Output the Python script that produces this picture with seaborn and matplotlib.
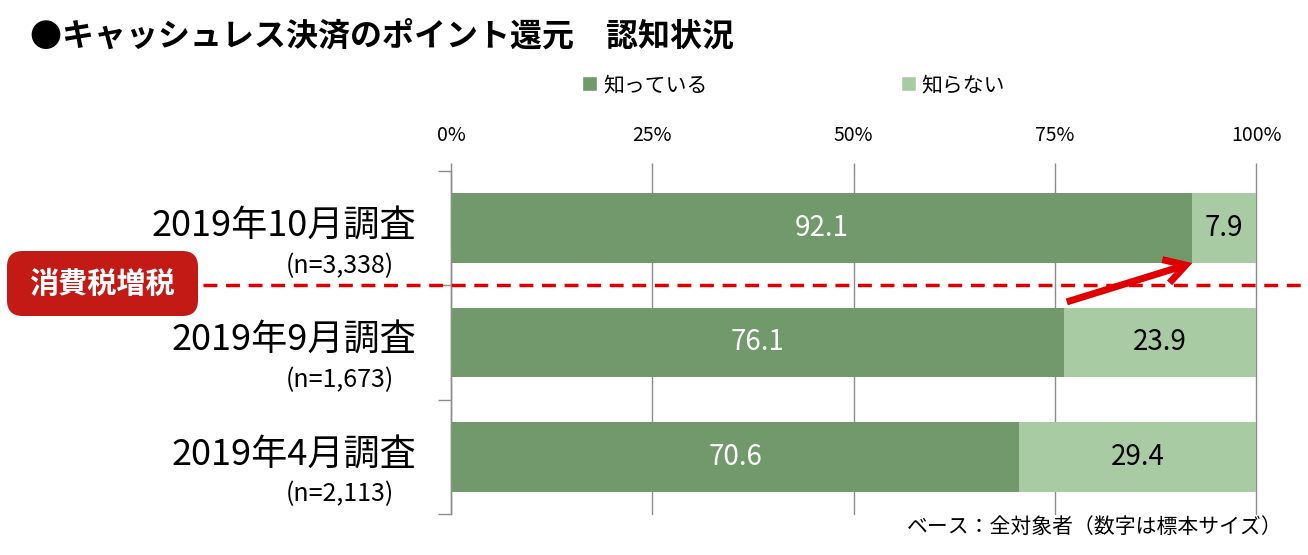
import numpy as np
import pandas as pd
import matplotlib
matplotlib.use("Agg")
import matplotlib.pyplot as plt
import matplotlib.transforms as mtransforms
from matplotlib.patches import FancyBboxPatch, Patch
import seaborn as sns

# data
surveys = ["2019年10月調査", "2019年9月調査", "2019年4月調査"]
sample_sizes = ["(n=3,338)", "(n=1,673)", "(n=2,113)"]
know = [92.1, 76.1, 70.6]
dont_know = [7.9, 23.9, 29.4]
x_ticks = [0, 25, 50, 75, 100]
x_tick_labels = ["0%", "25%", "50%", "75%", "100%"]

title = "●キャッシュレス決済のポイント還元　認知状況"
series_names = ["知っている", "知らない"]
badge_text = "消費税増税"
note = "ベース：全対象者（数字は標本サイズ）"

dark = "#71996B"
light = "#A8CBA4"
red = "#E00000"
grid_gray = "#8C8C8C"

sns.set_style("white")
plt.rcParams['font.family'] = ['Noto Sans CJK JP', 'DejaVu Sans']
plt.rcParams['text.color'] = 'black'
plt.rcParams['xtick.color'] = 'black'
plt.rcParams['ytick.color'] = 'black'

W, H = 1308, 555
fig = plt.figure(figsize=(W / 100, H / 100), dpi=100)
ax = fig.add_axes([451 / W, 1 - 514 / H, 805 / W, 343 / H])

df = pd.DataFrame({"survey": surveys, "know": know,
                   "total": np.array(know) + np.array(dont_know)})

bar_h = 0.61
sns.barplot(data=df, x="total", y="survey", color=light, width=bar_h,
            saturation=1, linewidth=0, ax=ax, orient="h")
sns.barplot(data=df, x="know", y="survey", color=dark, width=bar_h,
            saturation=1, linewidth=0, ax=ax, orient="h")

# value labels
for i in range(len(surveys)):
    ax.text(know[i] / 2, i, f"{know[i]:.1f}", ha="center", va="center",
            color="white", fontsize=20)
    ax.text(know[i] + dont_know[i] / 2, i, f"{dont_know[i]:.1f}",
            ha="center", va="center", color="black", fontsize=20)

ax.set_xlim(0, 100)
ax.set_ylim(len(surveys) - 0.5, -0.5)
ax.xaxis.tick_top()
ax.set_xticks(x_ticks)
ax.set_xticklabels(x_tick_labels, fontsize=14)
ax.tick_params(axis="x", which="major", direction="out", length=6,
               color=grid_gray, labelcolor="black", width=1, pad=12,
               top=True, bottom=False)
ax.set_yticks(np.arange(-0.5, len(surveys), 1.0))
ax.set_yticklabels([])
ax.tick_params(axis="y", direction="out", length=9.5, color=grid_gray,
               width=1, left=True)
ax.set_xlabel("")
ax.set_ylabel("")
ax.grid(axis="x", color=grid_gray, linewidth=1, alpha=1)
ax.grid(axis="y", visible=False)
for gl in ax.get_xgridlines():
    gl.set_clip_on(False)
ax.set_axisbelow(True)
for side in ["top", "right", "bottom"]:
    ax.spines[side].set_visible(False)
ax.spines["left"].set_color(grid_gray)
ax.spines["left"].set_linewidth(1)

# category labels
trans = mtransforms.blended_transform_factory(fig.transFigure, ax.transData)
for i, (s, n) in enumerate(zip(surveys, sample_sizes)):
    ax.text(416 / W, i - 0.02, s, transform=trans, ha="right", va="center",
            fontsize=26)
    ax.text(394 / W, i + 0.33, n, transform=trans, ha="right", va="center",
            fontsize=18)

# dashed line for consumption tax increase
ax.plot([203 / W, 1.0], [0.5, 0.5], transform=trans, color=red, lw=2.5,
        ls=(0, (4, 2.5)), clip_on=False, zorder=5)

# badge
badge = FancyBboxPatch((7 / W, 1 - 316 / H), 191 / W, 65 / H,
                       boxstyle="round,pad=0,rounding_size=0.012",
                       transform=fig.transFigure, facecolor="#C41A16",
                       edgecolor="none", mutation_aspect=W / H)
fig.patches.append(badge)
fig.text(102 / W, 1 - 284 / H, badge_text, ha="center", va="center",
         color="white", fontsize=21, fontweight="bold")

# arrow from 9月 to 10月
ax.annotate("", xy=(know[0], bar_h / 2), xytext=(know[1] + 0.4, 1 - bar_h / 2 - 0.05),
            arrowprops=dict(arrowstyle="->,head_length=0.6,head_width=0.35",
                            mutation_scale=25, lw=5, color=red,
                            shrinkA=0, shrinkB=0,
                            capstyle="butt", joinstyle="miter"),
            zorder=6, annotation_clip=False)

# title, legend, note
fig.text(30 / W, 1 - 38 / H, title, ha="left", va="center", fontsize=23,
         fontweight="bold")
handles = [Patch(facecolor=dark), Patch(facecolor=light)]
fig.legend(handles, series_names, loc="center left",
           bbox_to_anchor=(582 / W, 1 - 85 / H), ncol=2, frameon=False,
           fontsize=15, handlelength=0.7, handleheight=0.7,
           handletextpad=0.3, columnspacing=9.3, borderpad=0, borderaxespad=0)
fig.text(1283 / W, 1 - 527 / H, note, ha="right", va="center", fontsize=15)

fig.savefig("out.png", dpi=100)
